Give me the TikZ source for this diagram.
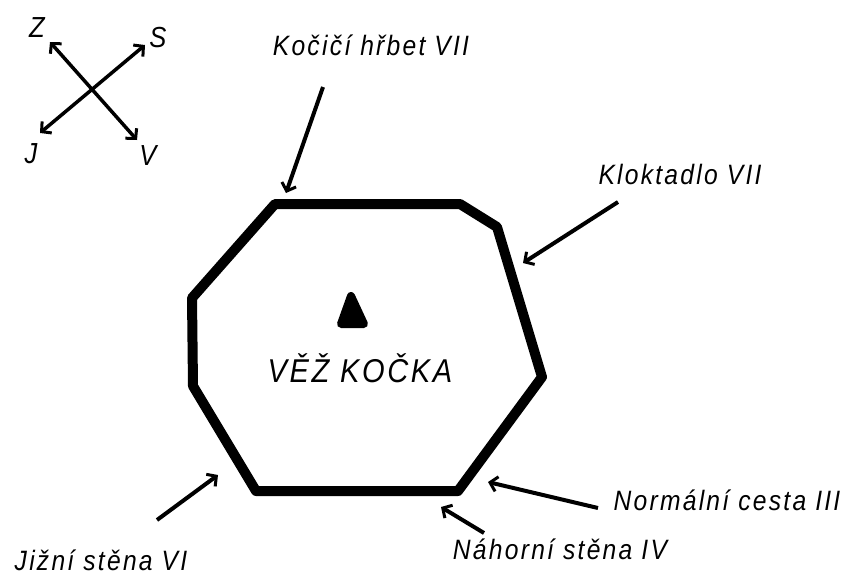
\documentclass[tikz,border=0pt]{standalone}
\usepackage{fontspec}
\setmainfont{Liberation Sans}
\newfontfamily\mapfont[FakeStretch=0.88,LetterSpace=8]{Liberation Sans}
\usetikzlibrary{arrows.meta,positioning}
\begin{document}
\begin{tikzpicture}[x=1pt,y=-1pt,
    tag/.style = {font=\mapfont\itshape\fontsize{28}{32}\selectfont, inner sep=0pt},
    wind/.style = {font=\mapfont\itshape\fontsize{29}{32}\selectfont, inner sep=0pt},
    pointer/.style = {line width=4pt, -{Straight Barb[length=7pt,width=15pt,line width=3pt]}},
    rose/.style = {line width=3.5pt, {Straight Barb[length=7pt,width=15pt,line width=3pt]}-{Straight Barb[length=7pt,width=15pt,line width=3pt]}},
    wall/.style = {line width=10pt, line join=round}]
    \useasboundingbox (0,0) rectangle (846,576);

    % compass
    \coordinate (z) at (50,42);
    \coordinate (v) at (137,140);
    \coordinate (s) at (145,45);
    \coordinate (j) at (40,133);
    \draw[rose] (z) -- (v);
    \draw[rose] (j) -- (s);
    \node[wind] (zl) at (37,28) {Z};
    \node[wind] (sl) at (158,38) {S};
    \node[wind] (jl) at (31,154) {J};
    \node[wind] (vl) at (148,156) {V};

    % tower
    \draw[wall] (275,204) -- (460,204) -- (497,227) -- (542,377) -- (458,491)
        -- (256,491) -- (193,386) -- (192,298) -- cycle;
    \filldraw[line width=8pt, line join=round] (341,324) -- (351,296) -- (364,324) -- cycle;
    \node[tag, font=\mapfont\itshape\fontsize{33}{38}\selectfont] (tower) at (360,368) {VĚŽ KOČKA};

    % routes
    \node[tag] (hrbet) at (371,45) {Kočičí hřbet VII};
    \node[tag] (klok) at (680,174) {Kloktadlo VII};
    \node[tag] (normal) at (727,500) {Normální cesta III};
    \node[tag] (nahor) at (560,549) {Náhorní stěna IV};
    \node[tag] (jizni) at (101,560) {Jižní stěna VI};

    \coordinate (hrbet0) at (323,87);   \coordinate (hrbet1) at (286,193);
    \coordinate (klok0) at (618,202);   \coordinate (klok1) at (523,263);
    \coordinate (normal0) at (598,508); \coordinate (normal1) at (488,482);
    \coordinate (nahor0) at (484,533);  \coordinate (nahor1) at (441,507);
    \coordinate (jizni0) at (157,520);  \coordinate (jizni1) at (218,475);

    \draw[pointer] (hrbet0) -- (hrbet1);
    \draw[pointer] (klok0) -- (klok1);
    \draw[pointer] (normal0) -- (normal1);
    \draw[pointer] (nahor0) -- (nahor1);
    \draw[pointer] (jizni0) -- (jizni1);
\end{tikzpicture}
\end{document}
